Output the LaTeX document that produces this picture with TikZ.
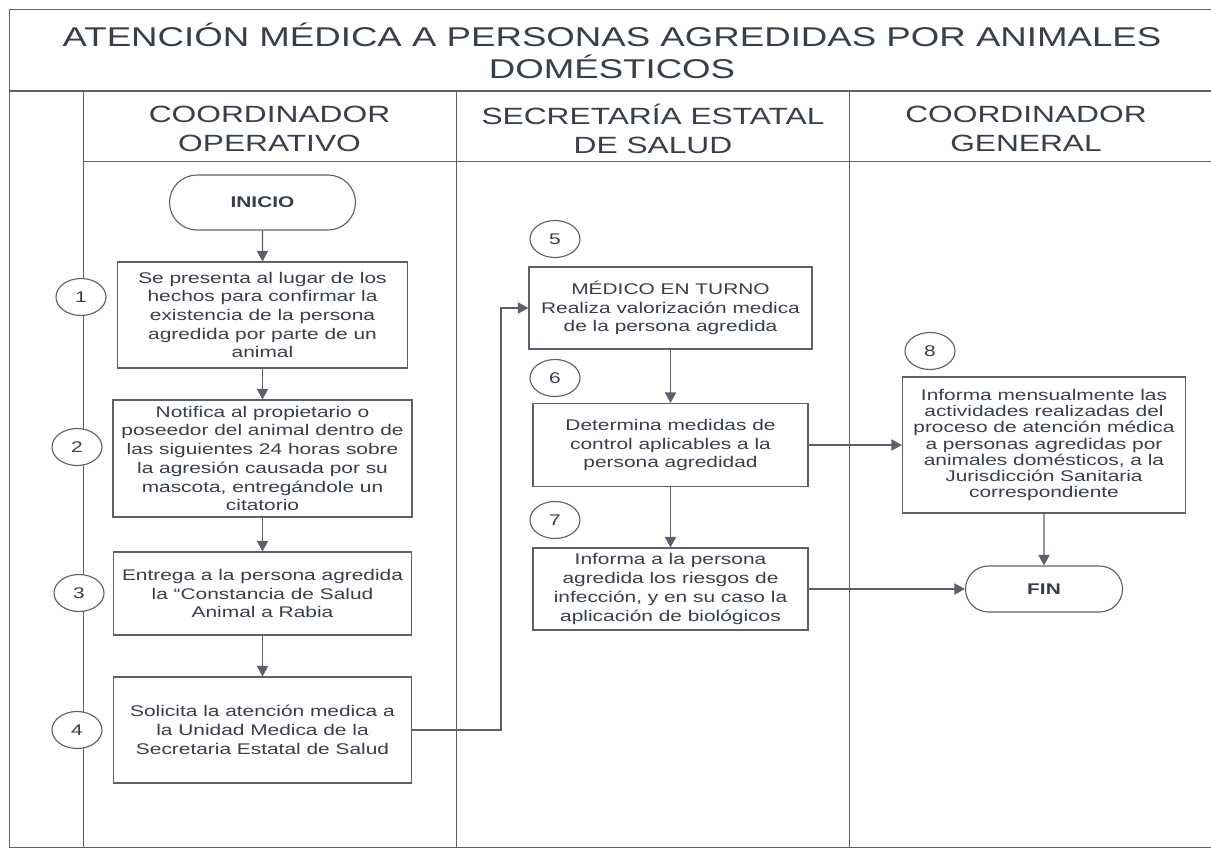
\documentclass[tikz,border=0pt]{standalone}
\usepackage{fontspec}
\setmainfont{Liberation Sans}[FakeStretch=1.35]
\usetikzlibrary{shapes,arrows.meta}
\newlength{\pu}\setlength{\pu}{0.025cm}
\definecolor{ink}{RGB}{55,63,72}
\definecolor{rule}{RGB}{92,97,105}
\tikzstyle{bx}=[rectangle,draw=rule,line width=.8pt,text=ink,align=center,inner sep=0pt,font=\fontsize{11}{13.3}\selectfont]
\tikzstyle{nm}=[ellipse,draw=rule,line width=.8pt,fill=white,text=ink,minimum width=50\pu,minimum height=37\pu,inner sep=0pt,font=\fontsize{11}{13}\selectfont]
\tikzstyle{tm}=[rounded rectangle,draw=rule,line width=.8pt,text=ink,inner sep=0pt,font=\fontsize{11}{13}\selectfont\bfseries]
\tikzstyle{hd}=[text=ink,align=center,font=\fontsize{16.7}{20.8}\selectfont]
\tikzstyle{ln}=[draw=rule,line width=.7pt]
\tikzstyle{ar}=[draw=rule,line width=.8pt,-{Triangle[width=8pt,length=7.5pt]}]

\begin{document}
\begin{tikzpicture}[x=\pu,y=-\pu]
\useasboundingbox (0,0) rectangle (1211,849);
\draw[ln] (1211,9) -- (9,9) -- (9,847) -- (1211,847);
\draw[ln,line width=1.2pt] (9,91) -- (1211,91);
\draw[ln] (83,161) -- (1211,161);
\draw[ln] (83,91) -- (83,847);
\draw[ln] (456,91) -- (456,847);
\draw[ln] (849,91) -- (849,847);
\node[text=ink,align=center,font=\fontsize{19.3}{22.5}\selectfont] (ttl) at (612,51) {ATENCIÓN MÉDICA A PERSONAS AGREDIDAS POR ANIMALES\\DOMÉSTICOS};
\node[hd] (co) at (269.5,129) {COORDINADOR\\OPERATIVO};
\node[hd] (ses) at (653,129) {SECRETARÍA ESTATAL\\DE SALUD};
\node[hd] (cg) at (1026,129) {COORDINADOR\\GENERAL};

\node[tm,minimum width=186\pu,minimum height=55\pu] (ini) at (262.5,202.5) {INICIO};
\node[bx,minimum width=290\pu,minimum height=106\pu] (b1) at (262.5,315) {Se presenta al lugar de los\\hechos para confirmar la\\existencia de la persona\\agredida por parte de un\\animal};
\node[bx,minimum width=299\pu,minimum height=117\pu] (b2) at (262.5,458.5) {Notifica al propietario o\\poseedor del animal dentro de\\las siguientes 24 horas sobre\\la agresión causada por su\\mascota, entregándole un\\citatorio};
\node[bx,minimum width=298\pu,minimum height=83\pu] (b3) at (262.5,593.5) {Entrega a la persona agredida\\la “Constancia de Salud\\Animal a Rabia};
\node[bx,minimum width=298\pu,minimum height=106\pu] (b4) at (262.5,730) {Solicita la atención medica a\\la Unidad Medica de la\\Secretaria Estatal de Salud};
\node[bx,minimum width=283\pu,minimum height=82\pu] (b5) at (670.5,308) {MÉDICO EN TURNO\\Realiza valorización medica\\de la persona agredida};
\node[bx,minimum width=275\pu,minimum height=83\pu] (b6) at (670.5,445) {Determina medidas de\\control aplicables a la\\persona agredidad};
\node[bx,minimum width=275\pu,minimum height=82\pu] (b7) at (670.5,589) {Informa a la persona\\agredida los riesgos de\\infección, y en su caso la\\aplicación de biológicos};
\node[bx,minimum width=283\pu,minimum height=136\pu,font=\fontsize{11}{11.6}\selectfont] (b8) at (1044,445) {Informa mensualmente las\\actividades realizadas del\\proceso de atención médica\\a personas agredidas por\\animales domésticos, a la\\Jurisdicción Sanitaria\\correspondiente};
\node[tm,minimum width=157\pu,minimum height=46\pu] (fin) at (1044,589) {FIN};

\node[nm] (n1) at (81,297) {1};
\node[nm] (n2) at (77,447) {2};
\node[nm] (n3) at (79,593) {3};
\node[nm] (n4) at (77,730) {4};
\node[nm] (n5) at (555,239) {5};
\node[nm] (n6) at (555,378) {6};
\node[nm] (n7) at (555,520) {7};
\node[nm] (n8) at (930,351) {8};

\coordinate (k4) at (501,730);
\draw[ar] (ini) -- (b1);
\draw[ar] (b1) -- (b2);
\draw[ar] (b2) -- (b3);
\draw[ar] (b3) -- (b4);
\draw[ar] (b4.east) -- (k4) |- (b5.west);
\draw[ar] (b5) -- (b6);
\draw[ar] (b6) -- (b7);
\draw[ar] (b6.east) -- (b8.west);
\draw[ar] (b7.east) -- (fin.west);
\draw[ar] (b8) -- (fin);
\end{tikzpicture}
\end{document}
